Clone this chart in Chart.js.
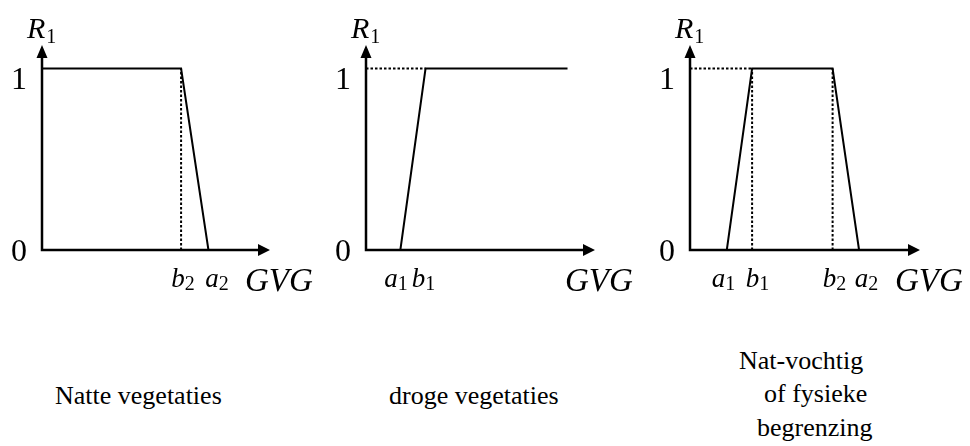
<!DOCTYPE html>
<html>
<head>
<meta charset="utf-8">
<script src="https://cdn.jsdelivr.net/npm/chart.js@4.4.1/dist/chart.umd.min.js"></script>
<style>
  html, body { margin: 0; padding: 0; background: #fff; }
  #wrap { position: relative; width: 970px; height: 446px; overflow: hidden; }
  canvas { position: absolute; top: 0; }
  .cap { position: absolute; font: 26px/26px 'Liberation Serif', 'Times New Roman', serif; color: #000; white-space: nowrap; }
</style>
</head>
<body>
<div id="wrap">
  <canvas id="c1" width="320" height="300" style="left:0px"></canvas>
  <canvas id="c2" width="320" height="300" style="left:324px"></canvas>
  <canvas id="c3" width="322" height="300" style="left:648px"></canvas>
  <div class="cap" style="left:55px;top:383px">Natte vegetaties</div>
  <div class="cap" style="left:389px;top:383px">droge vegetaties</div>
  <div class="cap" style="left:739px;top:348px">Nat-vochtig</div>
  <div class="cap" style="left:764px;top:381px">of fysieke</div>
  <div class="cap" style="left:757px;top:415px">begrenzing</div>
</div>
<script>
// axis ranges (GVG in arbitrary units, R1 from 0 to 1)
const X_MAX = 10;
const Y_MAX = 1.13;
const yTickValues = [0, 1];
const yTickLabels = ['0', '1'];

// Natte vegetaties
const wetX = [0, 6.1, 7.3];
const wetY = [1, 1, 0];
const wetDotX = [[6.1, 6.1]];
const wetDotY = [[0, 1]];
const wetTicks = [['b', '2', 6.18], ['a', '2', 7.68]];
const wetGvgAt = 8.9;

// droge vegetaties
const dryX = [1.5, 2.6, 8.8];
const dryY = [0, 1, 1];
const dryDotX = [[0, 2.6]];
const dryDotY = [[1, 1]];
const dryTicks = [['a', '1', 1.31], ['b', '1', 2.51]];
const dryGvgAt = 8.69;

// Nat-vochtig of fysieke begrenzing
const midX = [1.6, 2.7, 6.2, 7.35];
const midY = [0, 1, 1, 0];
const midDotX = [[0, 2.7], [2.7, 2.7], [6.2, 6.2]];
const midDotY = [[1, 1], [0, 1], [0, 1]];
const midTicks = [['a', '1', 1.46], ['b', '1', 2.93], ['b', '2', 6.28], ['a', '2', 7.67]];
const midGvgAt = 8.91;

const SERIF = "'Liberation Serif', 'Times New Roman', serif";

const toPts = (xs, ys) => xs.map((v, i) => ({ x: v, y: ys[i] }));

// letter with a small upright subscript, centred on cx
function subLabel(ctx, main, sub, cx, base, size, subSize, subDrop) {
    ctx.font = `italic ${size}px ${SERIF}`;
    const w1 = ctx.measureText(main).width;
    ctx.font = `${subSize}px ${SERIF}`;
    const w2 = ctx.measureText(sub).width;
    const left = cx - (w1 + w2) / 2;
    ctx.textAlign = 'left';
    ctx.font = `italic ${size}px ${SERIF}`;
    ctx.fillText(main, left, base);
    ctx.font = `${subSize}px ${SERIF}`;
    ctx.fillText(sub, left + w1, base + subDrop);
    return w1 + w2;
}

const sketchAxes = {
    id: 'sketchAxes',
    afterDraw(chart, args, opts) {
        const { ctx } = chart;
        const xs = chart.scales.x, ys = chart.scales.y;
        const x0 = xs.getPixelForValue(0), y0 = ys.getPixelForValue(0);
        const xTip = xs.getPixelForValue(X_MAX), yTip = ys.getPixelForValue(Y_MAX);

        ctx.save();
        ctx.strokeStyle = '#000';
        ctx.fillStyle = '#000';
        ctx.lineWidth = 2.5;
        ctx.lineCap = 'butt';
        ctx.beginPath();
        ctx.moveTo(x0, y0 + 1.2); ctx.lineTo(x0, yTip + 10);
        ctx.moveTo(x0 - 1.2, y0); ctx.lineTo(xTip - 10, y0);
        ctx.stroke();

        // arrow heads
        ctx.beginPath();
        ctx.moveTo(xTip, y0); ctx.lineTo(xTip - 12, y0 - 6); ctx.lineTo(xTip - 12, y0 + 6); ctx.closePath();
        ctx.moveTo(x0, yTip); ctx.lineTo(x0 - 5.5, yTip + 13); ctx.lineTo(x0 + 5.5, yTip + 13); ctx.closePath();
        ctx.fill();

        // 0 / 1 on the R1 axis
        const yDrop = [11, 20];
        ctx.font = `32px ${SERIF}`;
        ctx.textAlign = 'center';
        ctx.textBaseline = 'alphabetic';
        yTickValues.forEach((v, i) => {
            ctx.fillText(yTickLabels[i], x0 - 23, ys.getPixelForValue(v) + yDrop[i]);
        });

        // R1 axis title
        ctx.font = `italic 30px ${SERIF}`;
        ctx.textAlign = 'left';
        ctx.fillText('R', x0 - 15, yTip - 7);
        const rw = ctx.measureText('R').width;
        ctx.font = `20px ${SERIF}`;
        ctx.fillText('1', x0 - 15 + rw + 1, yTip - 2);

        // a / b marks under the GVG axis
        opts.ticks.forEach(([m, s, v]) => {
            subLabel(ctx, m, s, xs.getPixelForValue(v), y0 + 37, 27, 20, 3);
        });

        // GVG axis title
        ctx.font = `italic 33px ${SERIF}`;
        ctx.textAlign = 'left';
        ctx.fillText('GVG', xs.getPixelForValue(opts.gvgAt), y0 + 41);
        ctx.restore();
    }
};

function makePanel(id, padRight, lx, ly, dotX, dotY, ticks, gvgAt) {
    const datasets = [{
        data: toPts(lx, ly),
        borderColor: '#000',
        borderWidth: 2,
        borderJoinStyle: 'miter',
        pointRadius: 0,
        showLine: true,
        tension: 0,
        fill: false,
    }];
    dotX.forEach((seg, i) => datasets.push({
        data: toPts(seg, dotY[i]),
        borderColor: '#000',
        borderWidth: 2,
        borderDash: [2.5, 2],
        pointRadius: 0,
        showLine: true,
        tension: 0,
        fill: false,
    }));

    return new Chart(document.getElementById(id), {
        type: 'scatter',
        data: { datasets },
        options: {
            responsive: false,
            animation: false,
            events: [],
            layout: { padding: { left: 42, right: padRight, top: 45, bottom: 50 } },
            plugins: {
                legend: { display: false },
                tooltip: { enabled: false },
                sketchAxes: { ticks, gvgAt },
            },
            scales: {
                x: { type: 'linear', min: 0, max: X_MAX, display: false },
                y: { type: 'linear', min: 0, max: Y_MAX, display: false },
            },
        },
        plugins: [sketchAxes],
    });
}

makePanel('c1', 50, wetX, wetY, wetDotX, wetDotY, wetTicks, wetGvgAt);
makePanel('c2', 49, dryX, dryY, dryDotX, dryDotY, dryTicks, dryGvgAt);
makePanel('c3', 50, midX, midY, midDotX, midDotY, midTicks, midGvgAt);
</script>
</body>
</html>
